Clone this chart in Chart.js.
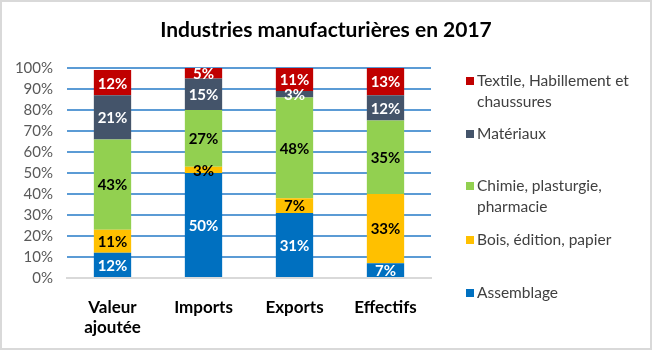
<!DOCTYPE html>
<html><head><meta charset="utf-8">
<script src="https://cdn.jsdelivr.net/npm/chart.js@4/dist/chart.umd.min.js"></script>
<style>
html,body{margin:0;padding:0;background:#fff;}
#wrap{position:relative;width:652px;height:350px;}
#title{position:absolute;left:0;top:15px;width:652px;text-align:center;font-family:Lato,"DejaVu Sans",sans-serif;font-weight:bold;font-size:21px;color:#000;line-height:28px;}
#legend{position:absolute;left:0;top:0;width:652px;height:350px;pointer-events:none;font-family:Lato,"Liberation Sans",sans-serif;font-size:15.5px;color:#404040;}
.li{position:absolute;left:466px;line-height:21px;}
.li span.sw{position:absolute;left:0;top:7px;width:8px;height:8px;}
.li span.tx{position:absolute;left:11px;top:0;white-space:nowrap;}
</style></head>
<body>
<div id="wrap"><canvas id="c" width="652" height="350"></canvas><div id="title">Industries manufacturières en 2017</div><div id="legend"></div></div>
<script>
const categories = [["Valeur","ajoutée"], "Imports", "Exports", "Effectifs"];
const seriesNames = ["Assemblage", "Bois, édition, papier", "Chimie, plasturgie, pharmacie", "Matériaux", "Textile, Habillement et chaussures"];
const assemblage = [12, 50, 31, 7];
const bois = [11, 3, 7, 33];
const chimie = [43, 27, 48, 35];
const materiaux = [21, 15, 3, 12];
const textile = [12, 5, 11, 13];
const yTicks = [0,10,20,30,40,50,60,70,80,90,100];

const colors = ["#0070C0", "#FFC000", "#92D050", "#44546A", "#C00000"];
const labelColors = ["#FFFFFF", "#000000", "#000000", "#FFFFFF", "#FFFFFF"];
const allData = [assemblage, bois, chimie, materiaux, textile];

const datasets = allData.map((d,i)=>({
  label: seriesNames[i], data: d, backgroundColor: colors[i],
  categoryPercentage: 1, barPercentage: 0.41, borderWidth: 0
}));

const labelPlugin = {
  id: 'barLabels',
  afterDatasetsDraw(chart){
    const ctx = chart.ctx;
    ctx.save();
    ctx.font = 'bold 15px Lato, "Liberation Sans", sans-serif';
    ctx.textAlign = 'center';
    ctx.textBaseline = 'middle';
    chart.data.datasets.forEach((ds, i)=>{
      const meta = chart.getDatasetMeta(i);
      meta.data.forEach((bar, j)=>{
        const v = ds.data[j];
        const y = (bar.y + bar.base)/2;
        ctx.fillStyle = labelColors[i];
        ctx.fillText(v + '%', bar.x, y + 1);
      });
    });
    ctx.restore();
  }
};
const borderPlugin = {
  id: 'outerBorder',
  afterDraw(chart){
    const ctx = chart.ctx;
    ctx.save();
    ctx.strokeStyle = '#D9D9D9';
    ctx.lineWidth = 2;
    ctx.strokeRect(1,1,chart.width-2,chart.height-2);
    ctx.restore();
  }
};
const bgPlugin = {
  id: 'bg',
  beforeDraw(chart){
    const ctx = chart.ctx; ctx.save(); ctx.fillStyle='#fff'; ctx.fillRect(0,0,chart.width,chart.height); ctx.restore();
  }
};

new Chart(document.getElementById('c'), {
  type: 'bar',
  data: { labels: categories, datasets },
  options: {
    responsive: false, animation: false,
    layout: { padding: { top: 68, right: 221, bottom: 0, left: 0 } },
    plugins: {
      legend: { display: false },
      tooltip: { enabled: false },
      title: { display: false }
    },
    scales: {
      x: {
        stacked: true,
        grid: { display: false },
        border: { color: '#D9D9D9', width: 2 },
        ticks: { color: '#000', font: { family: 'Lato, "Liberation Sans", sans-serif', size: 17, weight: 'bold' }, padding: 11, maxRotation: 0, autoSkip: false },
        afterFit(s){ s.height = 72; }
      },
      y: {
        stacked: true, min: 0, max: 100,
        afterBuildTicks(s){ s.ticks = yTicks.map(v=>({value:v})); },
        grid: { drawTicks: false, lineWidth: 2, color: c => (c.tick && c.tick.value === 0) ? '#D9D9D9' : '#5B9BD5' },
        border: { display: false },
        ticks: { color: '#595959', padding: 14, autoSkip: false, font: { family: 'Lato, "Liberation Sans", sans-serif', size: 15 }, callback: v => v + '%' },
        afterFit(s){ s.width = 67; }
      }
    }
  },
  plugins: [bgPlugin, labelPlugin, borderPlugin]
});

// HTML legend (reverse order, Excel-style)
const legendItems = [
  { i: 4, top: 70, lines: ["Textile, Habillement et", "chaussures"] },
  { i: 3, top: 123, lines: ["Matériaux"] },
  { i: 2, top: 175, lines: ["Chimie, plasturgie,", "pharmacie"] },
  { i: 1, top: 229, lines: ["Bois, édition, papier"] },
  { i: 0, top: 282, lines: ["Assemblage"] }
];
const lg = document.getElementById('legend');
legendItems.forEach(it=>{
  const d = document.createElement('div');
  d.className = 'li'; d.style.top = it.top + 'px';
  d.innerHTML = '<span class="sw" style="background:' + colors[it.i] + '"></span><span class="tx">' + it.lines.join('<br>') + '</span>';
  lg.appendChild(d);
});
</script>
</body></html>
